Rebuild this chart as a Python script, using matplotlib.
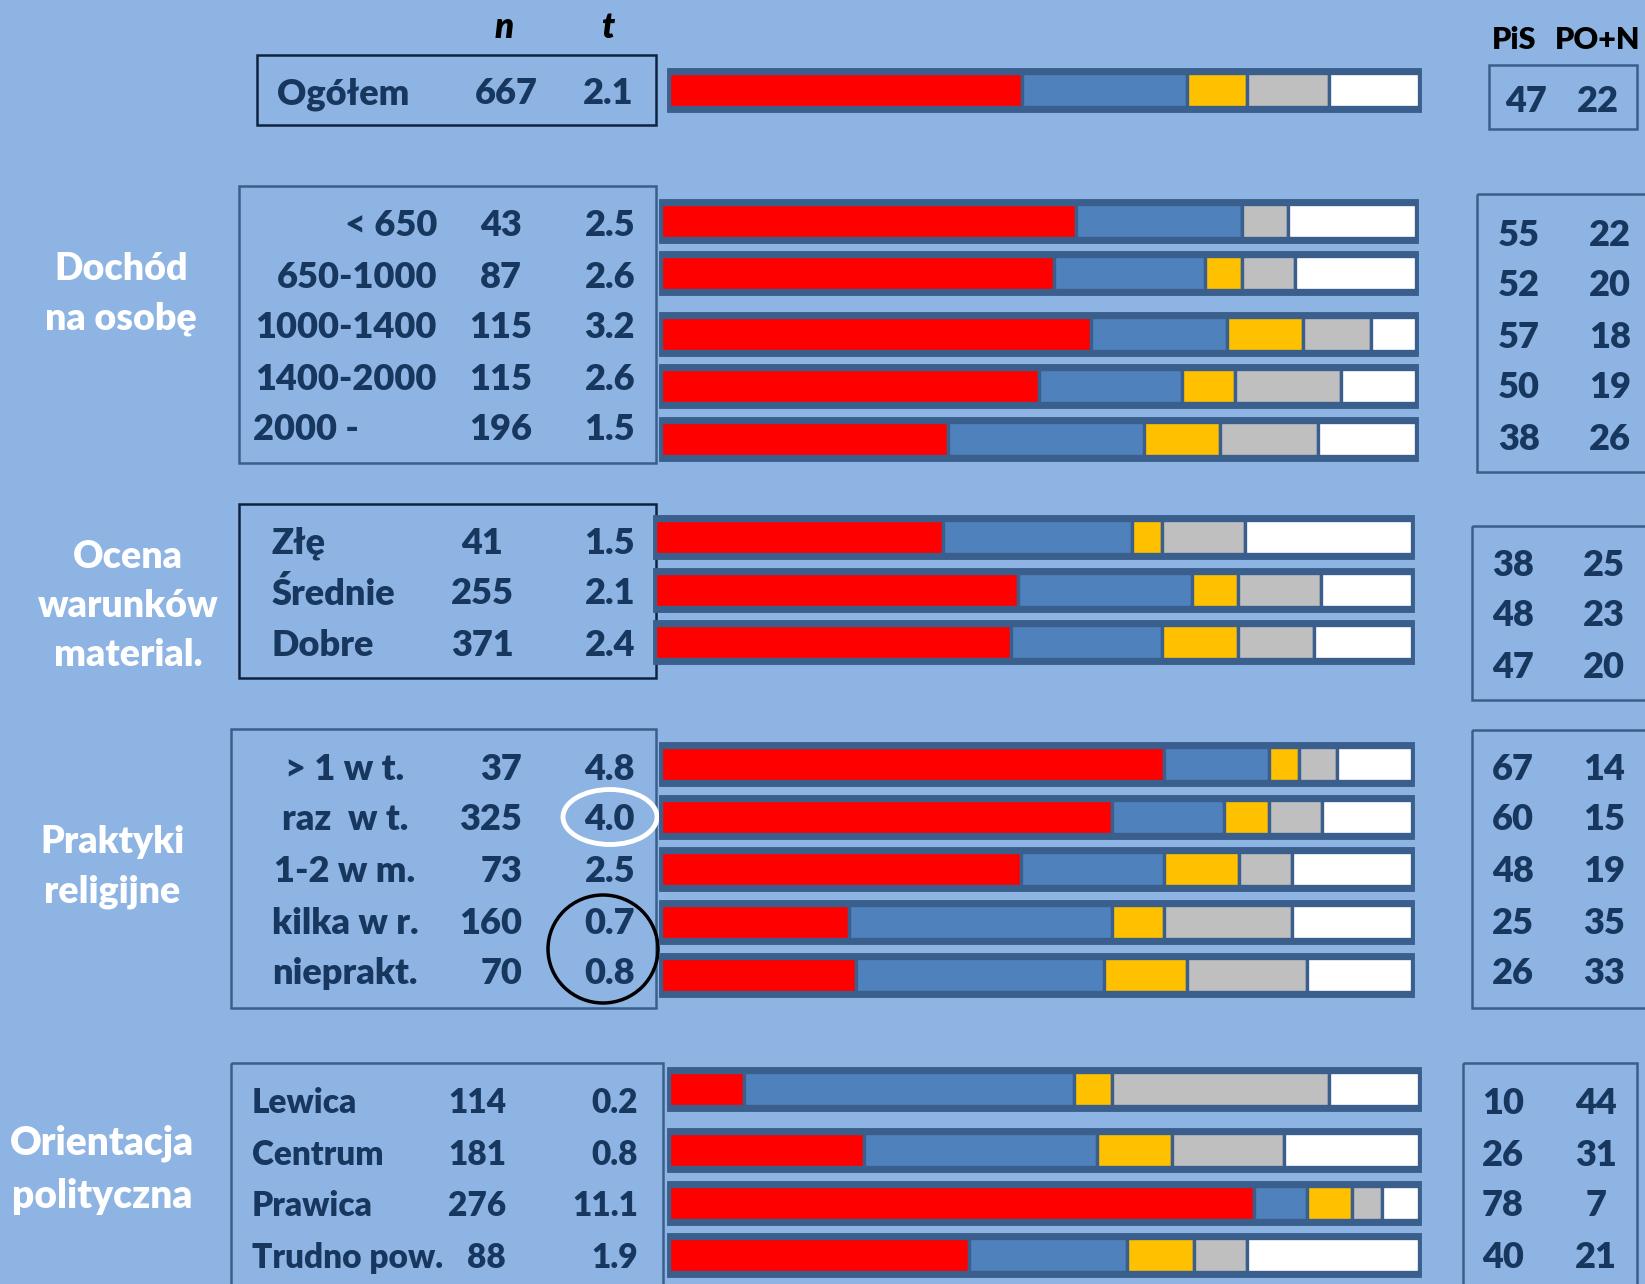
import matplotlib
matplotlib.use("Agg")
import matplotlib.pyplot as plt
from matplotlib.patches import Rectangle, Ellipse
import numpy as np

plt.rcParams['font.family'] = ['Lato', 'DejaVu Sans']

W, H = 1645, 1284
BG = '#8EB4E3'
NAVY = '#17375E'
FRAME = '#3A5F8C'
SEG_COLORS = ['#FF0000', '#4F81BD', '#FFC000', '#BFBFBF', '#FFFFFF']
WT = 'heavy'
DY = 3  # small vertical nudge for the table text

# ---- data ----
total_label = ['Ogółem']
total_n = [667]
total_t = ['2.1']
total_pis = [47]
total_pon = [22]
total_yellow = [8]
total_gray = [11]
total_white = [12]

income_labels = ['< 650', '650-1000', '1000-1400', '1400-2000', '2000 -']
income_n = [43, 87, 115, 115, 196]
income_t = ['2.5', '2.6', '3.2', '2.6', '1.5']
income_pis = [55, 52, 57, 50, 38]
income_pon = [22, 20, 18, 19, 26]
income_yellow = [0, 5, 10, 7, 10]
income_gray = [6, 7, 9, 14, 13]
income_white = [17, 16, 6, 10, 13]

cond_labels = ['Złę', 'Średnie', 'Dobre']
cond_n = [41, 255, 371]
cond_t = ['1.5', '2.1', '2.4']
cond_pis = [38, 48, 47]
cond_pon = [25, 23, 20]
cond_yellow = [4, 6, 10]
cond_gray = [11, 11, 10]
cond_white = [22, 12, 13]

relig_labels = ['> 1 w t.', 'raz  w t.', '1-2 w m.', 'kilka w r.', 'nieprakt.']
relig_n = [37, 325, 73, 160, 70]
relig_t = ['4.8', '4.0', '2.5', '0.7', '0.8']
relig_pis = [67, 60, 48, 25, 26]
relig_pon = [14, 15, 19, 35, 33]
relig_yellow = [4, 6, 10, 7, 11]
relig_gray = [5, 7, 7, 17, 16]
relig_white = [10, 12, 16, 16, 14]

pol_labels = ['Lewica', 'Centrum', 'Prawica', 'Trudno pow.']
pol_n = [114, 181, 276, 88]
pol_t = ['0.2', '0.8', '11.1', '1.9']
pol_pis = [10, 26, 78, 40]
pol_pon = [44, 31, 7, 21]
pol_yellow = [5, 10, 6, 9]
pol_gray = [29, 15, 4, 7]
pol_white = [12, 18, 5, 23]

# ---- layout (pixel positions of each block) ----
groups = [
    dict(title=None, labels=total_label, n=total_n, t=total_t,
         segs=[total_pis, total_pon, total_yellow, total_gray, total_white],
         box=(257, 55, 656, 125), box_ec='#0F2340', text_y=[91],
         lab_x=277, lab_ha=['left'], n_x=506, n_ha='center', t_x=633, fs=26,
         bar_x=(669, 1419), bar_y=[90],
         pbox=(1489, 65, 1637, 129), p_x=(1526, 1598), p_y=[99]),
    dict(title=('Dochód\nna osobę', 121, 294, 27), labels=income_labels, n=income_n, t=income_t,
         segs=[income_pis, income_pon, income_yellow, income_gray, income_white],
         box=(239, 186, 656, 463), box_ec=FRAME, text_y=[222, 274, 325, 377, 427],
         lab_x=437, lab_ha=['right'] * 4 + ['left'], lab_x_left=253,
         n_x=501, n_ha='center', t_x=635, fs=26,
         bar_x=(661, 1416), bar_y=[221, 273, 334, 386, 439],
         pbox=(1477, 194, 1660, 472), p_x=(1519, 1610), p_y=[232, 283, 334, 385, 436]),
    dict(title=('Ocena\nwarunków\nmaterial.', 128, 606, 27), labels=cond_labels, n=cond_n, t=cond_t,
         segs=[cond_pis, cond_pon, cond_yellow, cond_gray, cond_white],
         box=(239, 504, 656, 678), box_ec='#0F2340', text_y=[540, 591, 642],
         lab_x=272, lab_ha=['left'] * 3, n_x=482, n_ha='center', t_x=635, fs=26,
         bar_x=(655, 1412), bar_y=[537, 590, 642],
         pbox=(1472, 526, 1660, 700), p_x=(1513, 1604), p_y=[562, 613, 664]),
    dict(title=('Praktyki\nreligijne', 112, 867, 27), labels=relig_labels, n=relig_n, t=relig_t,
         segs=[relig_pis, relig_pon, relig_yellow, relig_gray, relig_white],
         box=(231, 729, 656, 1008), box_ec=FRAME, text_y=[767, 817, 869, 920, 971],
         lab_x=345, lab_ha=['center'] * 5, n_x=522, n_ha='right', t_x=635, fs=26,
         bar_x=(661, 1412), bar_y=[764, 817, 869, 922, 975],
         pbox=(1472, 730, 1660, 1008), p_x=(1513, 1604), p_y=[767, 817, 869, 920, 971]),
    dict(title=('Orientacja\npolityczna', 102, 1170, 28), labels=pol_labels, n=pol_n, t=pol_t,
         segs=[pol_pis, pol_pon, pol_yellow, pol_gray, pol_white],
         box=(231, 1063, 663, 1300), box_ec=FRAME, text_y=[1100, 1152, 1203, 1255],
         lab_x=252, lab_ha=['left'] * 4, n_x=506, n_ha='right', t_x=638, fs=24,
         bar_x=(669, 1419), bar_y=[1089, 1150, 1203, 1255],
         pbox=(1463, 1063, 1637, 1300), p_x=(1503, 1596), p_y=[1100, 1152, 1203, 1255]),
]

fig = plt.figure(figsize=(W / 100, H / 100), dpi=100)
fig.patch.set_facecolor(BG)

ax = fig.add_axes([0, 0, 1, 1])
ax.set_xlim(0, W)
ax.set_ylim(H, 0)
ax.axis('off')

# column headers
ax.text(504, 28, 'n', fontsize=25, fontweight=WT, style='italic', color='black', ha='center', va='center')
ax.text(608, 28, 't', fontsize=25, fontweight=WT, style='italic', color='black', ha='center', va='center')
ax.text(1514, 40, 'PiS', fontsize=22, fontweight=WT, color='black', ha='center', va='center')
ax.text(1598, 40, 'PO+N', fontsize=22, fontweight=WT, color='black', ha='center', va='center')

for g in groups:
    x0, y0, x1, y1 = g['box']
    ax.add_patch(Rectangle((x0, y0), x1 - x0, y1 - y0, fill=False, ec=g['box_ec'], lw=1.8))
    px0, py0, px1, py1 = g['pbox']
    ax.add_patch(Rectangle((px0, py0), px1 - px0, py1 - py0, fill=False, ec=FRAME, lw=1.8))

    if g['title']:
        txt, tx, ty, tfs = g['title']
        ax.text(tx, ty, txt, fontsize=tfs, fontweight=WT, color='white',
                ha='center', va='center', linespacing=1.52)

    fs = g['fs']
    for i, lab in enumerate(g['labels']):
        y = g['text_y'][i] + DY
        ha = g['lab_ha'][i]
        lx = g.get('lab_x_left', g['lab_x']) if (ha == 'left' and 'lab_x_left' in g) else g['lab_x']
        ax.text(lx, y, lab, fontsize=fs, fontweight=WT, color=NAVY, ha=ha, va='center')
        ax.text(g['n_x'], y, str(g['n'][i]), fontsize=fs, fontweight=WT, color=NAVY,
                ha=g['n_ha'], va='center')
        ax.text(g['t_x'], y, g['t'][i], fontsize=fs, fontweight=WT, color=NAVY,
                ha='right', va='center')

    # PiS / PO+N numbers taken from the first two segments
    for i, py in enumerate(g['p_y']):
        ax.text(g['p_x'][0], py + DY, str(g['segs'][0][i]), fontsize=26, fontweight=WT,
                color=NAVY, ha='center', va='center')
        ax.text(g['p_x'][1], py + DY, str(g['segs'][1][i]), fontsize=26, fontweight=WT,
                color=NAVY, ha='center', va='center')

    # stacked bars on their own 0-100 axis
    bx0, bx1 = g['bar_x']
    bax = fig.add_axes([bx0 / W, 0, (bx1 - bx0) / W, 1])
    bax.set_xlim(0, 100)
    bax.set_ylim(H, 0)
    bax.axis('off')
    bax.patch.set_alpha(0)
    ys = np.array(g['bar_y'])
    vals = np.array(g['segs'], dtype=float)
    vals = vals / vals.sum(axis=0) * 100
    left = np.zeros(len(ys))
    bax.barh(ys, 100, height=40, color=FRAME, edgecolor=FRAME, lw=3.5, clip_on=False)
    for k in range(vals.shape[0]):
        bax.barh(ys, vals[k], left=left, height=34, color=SEG_COLORS[k],
                 edgecolor=FRAME, lw=2.4, clip_on=False)
        left += vals[k]

# highlight circles
ax.add_patch(Ellipse((610, 817), 94, 55, fill=False, ec='white', lw=3.5))
ax.add_patch(Ellipse((603, 949), 110, 108, fill=False, ec='black', lw=2.5))

fig.savefig('out.png', dpi=100, facecolor=BG)
